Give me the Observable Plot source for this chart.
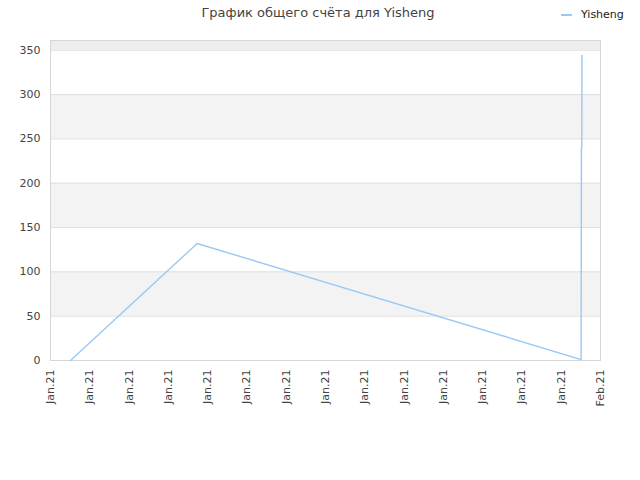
<!DOCTYPE html>
<html><head><meta charset="utf-8">
<script src="https://cdn.jsdelivr.net/npm/d3@7"></script>
<script src="https://cdn.jsdelivr.net/npm/@observablehq/plot@0.6"></script>
<style>
body{margin:0;background:#fff;font-family:"DejaVu Sans",sans-serif;}
#wrap{position:relative;width:640px;height:480px;}
#title{position:absolute;top:5px;left:0;width:636px;text-align:center;font-size:13px;color:#444;z-index:2;}
#legend{position:absolute;top:8px;left:561px;font-size:11px;color:#222;display:flex;align-items:center;z-index:2;}
#legend .sw{display:inline-block;width:11px;height:2px;background:#99c9f5;margin-right:9px;}
#chart{position:absolute;top:0;left:0;z-index:1;}
</style></head><body>
<div id="wrap"><div id="title"></div><div id="legend"></div><div id="chart"></div></div>
<script>
const chartTitle = "График общего счёта для Yisheng";
const seriesName = "Yisheng";
const times = ["2021-01-18T12:15Z","2021-01-21T17:35Z","2021-01-31T12:10Z","2021-01-31T12:20Z","2021-01-31T12:35Z","2021-01-31T12:40Z"];
const scores = [0, 132, 1, 239, 240, 344];
const yTicks = [0, 50, 100, 150, 200, 250, 300, 350];
const yMax = 361;
const xTicks = ["2021-01-18","2021-01-19","2021-01-20","2021-01-21","2021-01-22","2021-01-23","2021-01-24","2021-01-25","2021-01-26","2021-01-27","2021-01-28","2021-01-29","2021-01-30","2021-01-31","2021-02-01"];
const grayBands = [[50,100],[150,200],[250,300]];
const topBand = [[350, yMax]];

document.getElementById("title").textContent = chartTitle;
document.getElementById("legend").innerHTML = '<span class="sw"></span><span></span>';
document.querySelector("#legend span:last-child").textContent = seriesName;

const data = times.map((t,i)=>({t:new Date(t), v:scores[i]}));
const xDates = xTicks.map(d=>new Date(d+"T00:00Z"));
const x0 = xDates[0], x1 = xDates[xDates.length-1];

const chart = Plot.plot({
  width:640, height:480,
  marginTop:40, marginLeft:50, marginRight:40, marginBottom:120,
  style:{fontFamily:"DejaVu Sans, sans-serif", fontSize:"11px", color:"#444", background:"transparent"},
  x:{type:"utc", domain:[x0, x1]},
  y:{domain:[0, yMax]},
  marks:[
    Plot.rect(grayBands, {x1:()=>x0, x2:()=>x1, y1:d=>d[0], y2:d=>d[1], fill:"#f3f3f3"}),
    Plot.rect(topBand, {x1:()=>x0, x2:()=>x1, y1:d=>d[0], y2:d=>d[1], fill:"#eeeeee"}),
    Plot.ruleY(yTicks, {stroke:"#dfdfdf", strokeWidth:1}),
    Plot.frame({stroke:"#d6d6d6"}),
    Plot.line(data, {x:"t", y:"v", stroke:"#99c9f5", strokeWidth:1.4}),
    Plot.axisY(yTicks, {tickSize:0, tickPadding:10, fontSize:11, label:null}),
    Plot.axisX(xDates, {tickSize:0, tickRotate:-90, tickPadding:9, tickFormat:d3.utcFormat("%b.%y"), fontSize:11, label:null})
  ]
});
document.getElementById("chart").appendChild(chart);
</script>
</body></html>
